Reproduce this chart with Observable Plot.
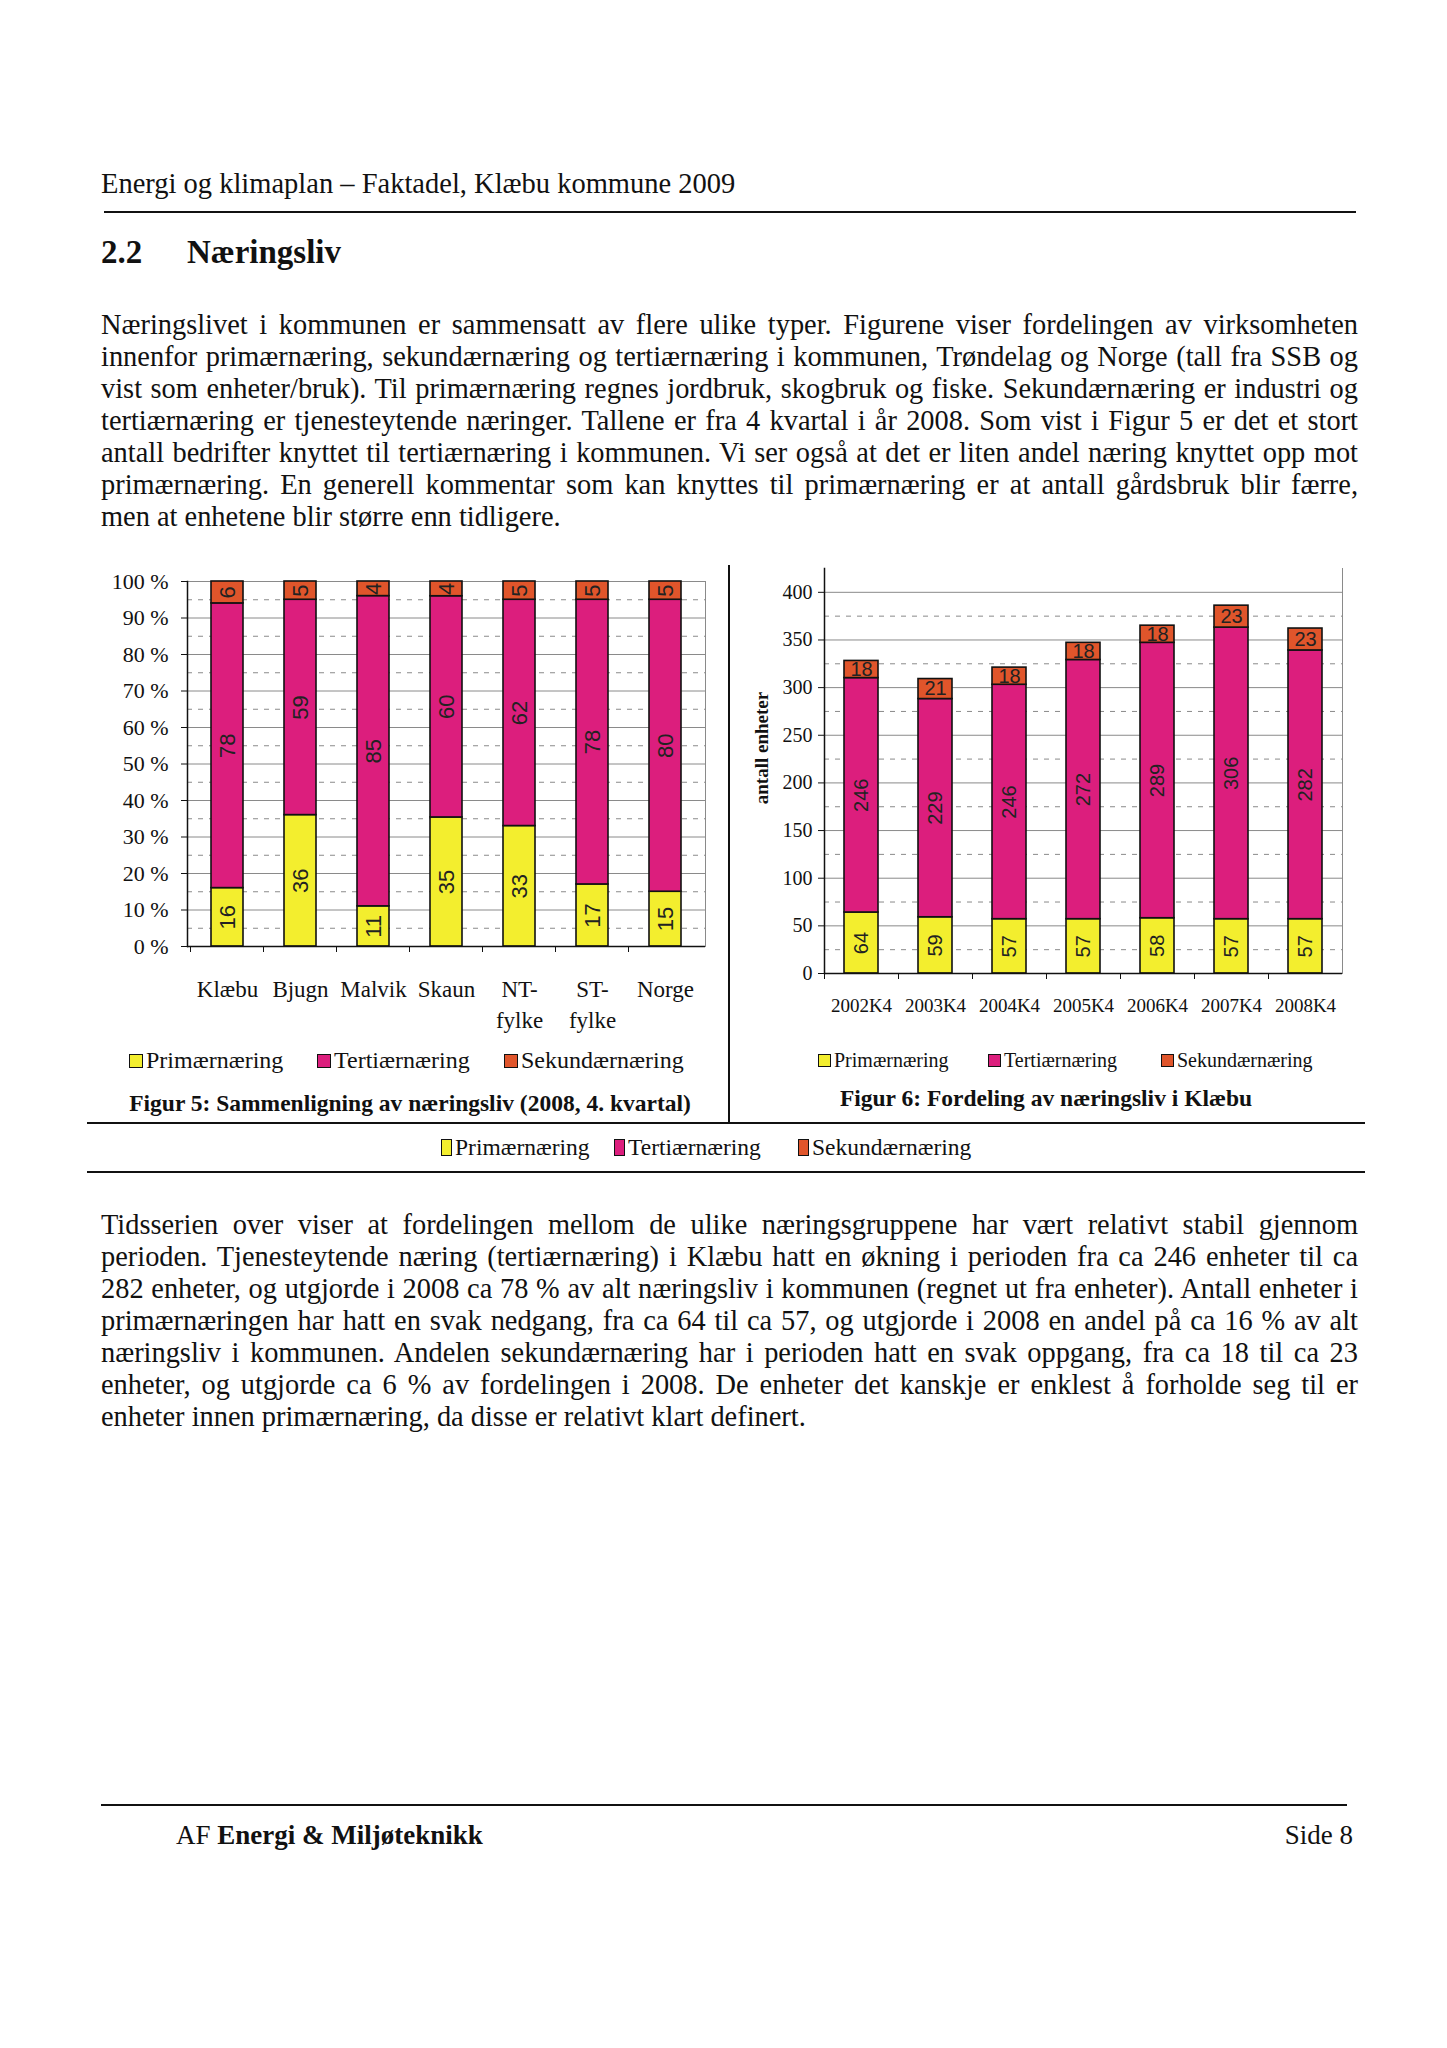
<!DOCTYPE html>
<html><head><meta charset="utf-8">
<script src="https://cdn.jsdelivr.net/npm/d3@7"></script>
<script src="https://cdn.jsdelivr.net/npm/@observablehq/plot@0.6"></script>
<style>
body{margin:0;background:#fff;}
#page{position:relative;width:1447px;height:2048px;font-family:"Liberation Serif","Times New Roman",serif;color:#111;overflow:hidden;}
.abs{position:absolute;white-space:nowrap;}
.pl{position:absolute;left:101px;width:1257px;height:32px;line-height:32px;font-size:28.4px;white-space:nowrap;overflow:visible;}
.j{text-align:justify;text-align-last:justify;white-space:normal;}
.hr{position:absolute;background:#111;}
.leg{position:absolute;white-space:nowrap;display:flex;align-items:center;}
.sw{display:inline-block;border:1.5px solid #111;box-sizing:border-box;margin-right:3px;}
.chart{position:absolute;}
</style>
</head><body>
<div id="page"></div>
<script>
// ---------- data ----------
const series = ["Primærnæring", "Tertiærnæring", "Sekundærnæring"];
const seriesColors = ["#F3EE2E", "#DC1E7D", "#E0552B"];

// Figur 5 (percent, 2008 4. kvartal)
const catsA = ["Klæbu", "Bjugn", "Malvik", "Skaun", "NT-\nfylke", "ST-\nfylke", "Norge"];
const primA = [16, 36, 11, 35, 33, 17, 15];
const tertA = [78, 59, 85, 60, 62, 78, 80];
const sekA  = [6, 5, 4, 4, 5, 5, 5];
const pctTicks = [0, 0.1, 0.2, 0.3, 0.4, 0.5, 0.6, 0.7, 0.8, 0.9, 1];
const pctMinor = [0.05, 0.15, 0.25, 0.35, 0.45, 0.55, 0.65, 0.75, 0.85, 0.95];

// Figur 6 (antall enheter, Klæbu)
const years = ["2002K4", "2003K4", "2004K4", "2005K4", "2006K4", "2007K4", "2008K4"];
const primB = [64, 59, 57, 57, 58, 57, 57];
const tertB = [246, 229, 246, 272, 289, 306, 282];
const sekB  = [18, 21, 18, 18, 18, 23, 23];
const unitTicks = [0, 50, 100, 150, 200, 250, 300, 350, 400];
const unitMinor = [25, 75, 125, 175, 225, 275, 325, 375];

// ---------- text ----------
const headerText = "Energi og klimaplan – Faktadel, Klæbu kommune 2009";
const para1 = [
"Næringslivet i kommunen er sammensatt av flere ulike typer. Figurene viser fordelingen av virksomheten",
"innenfor primærnæring, sekundærnæring og tertiærnæring i kommunen, Trøndelag og Norge (tall fra SSB og",
"vist som enheter/bruk). Til primærnæring regnes jordbruk, skogbruk og fiske. Sekundærnæring er industri og",
"tertiærnæring er tjenesteytende næringer. Tallene er fra 4 kvartal i år 2008. Som vist i Figur 5 er det et stort",
"antall bedrifter knyttet til tertiærnæring i kommunen. Vi ser også at det er liten andel næring knyttet opp mot",
"primærnæring. En generell kommentar som kan knyttes til primærnæring er at antall gårdsbruk blir færre,",
"men at enhetene blir større enn tidligere."];
const para2 = [
"Tidsserien over viser at fordelingen mellom de ulike næringsgruppene har vært relativt stabil gjennom",
"perioden. Tjenesteytende næring (tertiærnæring) i Klæbu hatt en økning i perioden fra ca 246 enheter til ca",
"282 enheter, og utgjorde i 2008 ca 78 % av alt næringsliv i kommunen (regnet ut fra enheter). Antall enheter i",
"primærnæringen har hatt en svak nedgang, fra ca 64 til ca 57, og utgjorde i 2008 en andel på ca 16 % av alt",
"næringsliv i kommunen. Andelen sekundærnæring har i perioden hatt en svak oppgang, fra ca 18 til ca 23",
"enheter, og utgjorde ca 6 % av fordelingen i 2008. De enheter det kanskje er enklest å forholde seg til er",
"enheter innen primærnæring, da disse er relativt klart definert."];

const page = document.getElementById("page");
function el(tag, cls, css, html) {
  const e = document.createElement(tag);
  if (cls) e.className = cls;
  if (css) e.style.cssText = css;
  if (html != null) e.innerHTML = html;
  page.appendChild(e);
  return e;
}
function textAt(txt, left, cy, size, extra) {
  const lh = Math.round(size * 1.3);
  return el("div", "abs", `left:${left}px;top:${cy - lh / 2}px;height:${lh}px;line-height:${lh}px;font-size:${size}px;${extra || ""}`, txt);
}
function centerTextAt(txt, cx, cy, size, extra) {
  const lh = Math.round(size * 1.3);
  return el("div", "abs", `left:${cx - 400}px;width:800px;text-align:center;top:${cy - lh / 2}px;height:${lh}px;line-height:${lh}px;font-size:${size}px;${extra || ""}`, txt);
}
function hline(x1, x2, y, w) { el("div", "hr", `left:${x1}px;top:${y - w / 2}px;width:${x2 - x1}px;height:${w}px;`); }
function vline(x, y1, y2, w) { el("div", "hr", `left:${x - w / 2}px;top:${y1}px;width:${w}px;height:${y2 - y1}px;`); }
function paragraph(lines, top) {
  lines.forEach((t, i) => {
    el("div", "pl" + (i < lines.length - 1 ? " j" : ""), `top:${top + i * 32}px;`, t);
  });
}
function legend(xs, cy, size, sw) {
  series.forEach((s, i) => {
    const d = el("div", "leg", `left:${xs[i]}px;top:${cy - size * 0.65}px;height:${size * 1.3}px;font-size:${size}px;`);
    d.innerHTML = `<span class="sw" style="width:${sw[0]}px;height:${sw[1]}px;background:${seriesColors[i]}"></span><span>${s}</span>`;
  });
}

// header
textAt(headerText, 101, 183, 28.5);
hline(104, 1356, 212, 2.5);
textAt("2.2", 101, 252, 33, "font-weight:bold;");
textAt("Næringsliv", 187, 252, 33, "font-weight:bold;");
paragraph(para1, 309);

// ---------- charts ----------
const rowsA = catsA.flatMap((c, i) => [
  {cat: c, s: series[0], v: primA[i]},
  {cat: c, s: series[1], v: tertA[i]},
  {cat: c, s: series[2], v: sekA[i]}]);
const rowsB = years.flatMap((c, i) => [
  {cat: c, s: series[0], v: primB[i]},
  {cat: c, s: series[1], v: tertB[i]},
  {cat: c, s: series[2], v: sekB[i]}]);

const baseStyle = {fontFamily: "Liberation Serif", fontSize: "22px", color: "#111", background: "transparent", overflow: "visible"};
const gridColor = "#8a8a8a";

const chartA = Plot.plot({
  width: 620, height: 480,
  marginLeft: 87, marginRight: 15, marginTop: 21, marginBottom: 94,
  style: baseStyle,
  x: {domain: catsA, paddingInner: 0.567, paddingOuter: 0.284, axis: null},
  y: {domain: [0, 1], axis: null},
  color: {domain: series, range: seriesColors},
  marks: [
    Plot.gridY({ticks: pctMinor, stroke: gridColor, strokeOpacity: 1, strokeDasharray: "5,6"}),
    Plot.gridY({ticks: pctTicks, stroke: gridColor, strokeOpacity: 1}),
    Plot.frame({stroke: gridColor}),
    Plot.barY(rowsA, {x: "cat", y: "v", fill: "s", offset: "normalize", stroke: "#111", strokeWidth: 1.6}),
    Plot.text(rowsA, Plot.stackY({x: "cat", y: "v", text: d => String(d.v), offset: "normalize", rotate: -90,
      fontFamily: "Liberation Sans", fontSize: 22, fill: "#222"})),
    Plot.axisY({ticks: pctTicks, tickFormat: d => `${Math.round(d * 100)} %`, tickSize: 6, tickPadding: 13, fontSize: 22, label: null}),
    Plot.axisX({tickSize: 0, tickPadding: 28, fontSize: 23, lineHeight: 1.35, label: null}),
    Plot.axisX({tickSize: 6, tickFormat: () => "", dx: -37, label: null}),
    Plot.frame({anchor: "left", stroke: "#111", strokeWidth: 1.5}),
    Plot.ruleY([0], {stroke: "#111", strokeWidth: 1.5})
  ]
});
chartA.classList.add("chart");
chartA.style.left = "100px"; chartA.style.top = "560px";
page.appendChild(chartA);

const chartB = Plot.plot({
  width: 620, height: 500,
  marginLeft: 84, marginRight: 18, marginTop: 18, marginBottom: 77,
  style: baseStyle,
  x: {domain: years, paddingInner: 0.54, paddingOuter: 0.27, axis: null},
  y: {domain: [0, 425], axis: null},
  color: {domain: series, range: seriesColors},
  marks: [
    Plot.gridY({ticks: unitMinor, stroke: gridColor, strokeOpacity: 1, strokeDasharray: "5,6"}),
    Plot.gridY({ticks: unitTicks, stroke: gridColor, strokeOpacity: 1}),
    Plot.frame({anchor: "right", stroke: gridColor}),
    Plot.barY(rowsB, {x: "cat", y: "v", fill: "s", stroke: "#111", strokeWidth: 1.6}),
    Plot.text(rowsB, Plot.stackY({x: "cat", y: "v", text: d => d.s === series[2] ? "" : String(d.v), rotate: -90,
      fontFamily: "Liberation Sans", fontSize: 20, fill: "#222"})),
    Plot.text(rowsB, Plot.stackY({x: "cat", y: "v", text: d => d.s === series[2] ? String(d.v) : "",
      fontFamily: "Liberation Sans", fontSize: 20, fill: "#222"})),
    Plot.axisY({ticks: unitTicks, tickSize: 6, tickPadding: 6, fontSize: 20, label: null}),
    Plot.axisX({tickSize: 0, tickPadding: 25, fontSize: 19, label: null}),
    Plot.axisX({tickSize: 6, tickFormat: () => "", dx: -37, label: null}),
    Plot.frame({anchor: "left", stroke: "#111", strokeWidth: 1.5}),
    Plot.ruleY([0], {stroke: "#111", strokeWidth: 1.5})
  ]
});
chartB.classList.add("chart");
chartB.style.left = "740px"; chartB.style.top = "550px";
page.appendChild(chartB);

// y-axis title for Figur 6
el("div", "abs", `left:${762 - 100}px;top:${748 - 13}px;width:200px;height:26px;line-height:26px;text-align:center;font-size:19px;font-weight:bold;transform:rotate(-90deg);`, "antall enheter");

// legends and captions
legend([129, 317, 504], 1061, 24, [14, 14]);
centerTextAt("Figur 5: Sammenligning av næringsliv (2008, 4. kvartal)", 410, 1103, 23.5, "font-weight:bold;");
legend([818, 988, 1161], 1060, 20, [13, 13]);
centerTextAt("Figur 6: Fordeling av næringsliv i Klæbu", 1046, 1098, 23.5, "font-weight:bold;");

vline(729, 565, 1123, 1.5);
hline(87, 1365, 1123, 2);
legend([441, 614, 798], 1148, 23.5, [11, 17]);
hline(87, 1365, 1172, 2);

paragraph(para2, 1209);

// footer
hline(101, 1347, 1805, 2);
textAt("AF <b>Energi &amp; Miljøteknikk</b>", 176, 1835, 27);
el("div", "abs", `left:${1353 - 300}px;width:300px;text-align:right;top:${1835 - 17}px;height:35px;line-height:35px;font-size:27px;`, "Side 8");
</script>
</body></html>
